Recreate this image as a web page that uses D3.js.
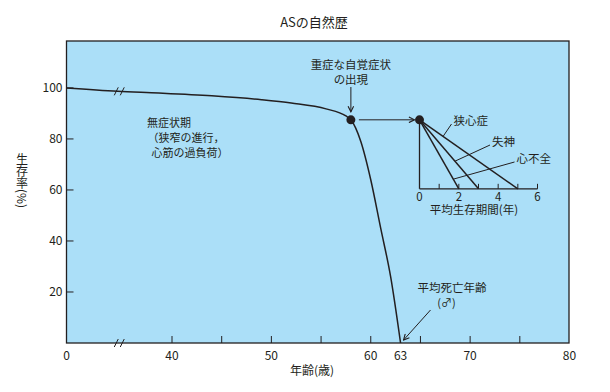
<!DOCTYPE html>
<html>
<head>
<meta charset="utf-8">
<script src="https://cdn.jsdelivr.net/npm/d3@7"></script>
<style>
  body { margin: 0; background: #fff; }
  text { font-family: "Noto Sans CJK JP", "Noto Sans", sans-serif; fill: #231f20; }
</style>
</head>
<body>
<div id="chart"></div>
<script>
// survival curve (age, survival %)
var ages     = [0, 19.4, 35, 44, 49, 52, 55.5, 57.5, 58, 59, 60, 61, 62, 63];
var survival = [100, 98.7, 98, 96.9, 95.4, 94.1, 91.8, 89, 87.5, 79, 64, 45, 26, 0];

var onsetAge = 58;          // 重症な自覚症状の出現
var deathAge = 63;          // 平均死亡年齢
var breakAge = 20;          // axis break position

var xTickMarks  = [40, 45, 50, 55, 60, 65, 70, 75];
var xTickLabels = [0, 40, 50, 60, 63, 70, 80];
var yTickValues = [20, 40, 60, 80, 100];

// inset: mean survival years after symptoms
var insetLabels = ["狭心症", "失神", "心不全"];
var insetYears  = [5, 3, 2];
var insetTicks  = [0, 1, 2, 3, 4, 5, 6];
var insetTickLabels = [0, 2, 4, 6];

var W = 610, H = 392;
var margin = { top: 41, right: 41, bottom: 49, left: 66.5 },
    width = W - margin.left - margin.right,
    height = H - margin.top - margin.bottom;

var ink = "#231f20";

// broken x axis: 0-40 compressed
var x = d3.scaleLinear()
    .domain([0, 40, 80])
    .range([0, 105.5, 503]);
var y = d3.scaleLinear()
    .domain([0, 118.4])
    .range([height, 0]);

var svg = d3.select("#chart").append("svg")
    .attr("width", W)
    .attr("height", H);

svg.append("defs").append("marker")
    .attr("id", "arr")
    .attr("viewBox", "0 0 10 10")
    .attr("refX", 9).attr("refY", 5)
    .attr("markerWidth", 7).attr("markerHeight", 7)
    .attr("markerUnits", "userSpaceOnUse")
    .attr("orient", "auto")
    .append("path")
    .attr("d", "M1,1 L9,5 L1,9")
    .attr("fill", "none")
    .attr("stroke", ink)
    .attr("stroke-width", 1.6);

// title
svg.append("text")
    .attr("x", 314).attr("y", 27)
    .attr("text-anchor", "middle")
    .style("font-size", "13px")
    .text("ASの自然歴");

var g = svg.append("g")
    .attr("transform", "translate(" + margin.left + "," + margin.top + ")");

// plot background
g.append("rect")
    .attr("width", width).attr("height", height)
    .attr("fill", "#abdff8")
    .attr("stroke", ink)
    .attr("stroke-width", 1.3);

// x ticks (inward) and labels
g.selectAll(".xt").data(xTickMarks).enter().append("line")
    .attr("x1", function (d) { return x(d); })
    .attr("x2", function (d) { return x(d); })
    .attr("y1", height).attr("y2", height - 7)
    .attr("stroke", ink).attr("stroke-width", 1);
g.selectAll(".xl").data(xTickLabels).enter().append("text")
    .attr("x", function (d) { return x(d); })
    .attr("y", height + 17)
    .attr("text-anchor", "middle")
    .style("font-size", "12px")
    .text(function (d) { return d; });

// y ticks (inward) and labels
g.selectAll(".yt").data(yTickValues).enter().append("line")
    .attr("x1", 0).attr("x2", 7)
    .attr("y1", function (d) { return y(d); })
    .attr("y2", function (d) { return y(d); })
    .attr("stroke", ink).attr("stroke-width", 1);
g.selectAll(".yl").data(yTickValues).enter().append("text")
    .attr("x", -4)
    .attr("y", function (d) { return y(d) + 4.5; })
    .attr("text-anchor", "end")
    .style("font-size", "12px")
    .text(function (d) { return d; });

// axis titles
svg.append("text")
    .attr("x", 312).attr("y", 375)
    .attr("text-anchor", "middle")
    .style("font-size", "12px")
    .text("年齢(歳)");
svg.append("text")
    .attr("x", 22).attr("y", 153)
    .style("writing-mode", "vertical-rl")
    .style("font-size", "12px")
    .text("生存率(%)");

// break marks
function breakMark(cx, cy) {
    [-3, 3].forEach(function (dx) {
        g.append("line")
            .attr("x1", cx + dx - 2).attr("y1", cy + 4)
            .attr("x2", cx + dx + 2).attr("y2", cy - 4)
            .attr("stroke", ink).attr("stroke-width", 1);
    });
}
var lineData = ages.map(function (a, i) { return [a, survival[i]]; });
var interp = d3.scaleLinear().domain(ages).range(survival);
breakMark(x(breakAge), height);
breakMark(x(breakAge), y(interp(breakAge)));

// survival curve
g.append("path")
    .datum(lineData)
    .attr("fill", "none")
    .attr("stroke", ink)
    .attr("stroke-width", 1.5)
    .attr("d", d3.line()
        .x(function (d) { return x(d[0]); })
        .y(function (d) { return y(d[1]); })
        .curve(d3.curveMonotoneX));

var px = x(onsetAge), py = y(interp(onsetAge));
g.append("circle")
    .attr("cx", px).attr("cy", py).attr("r", 4.5)
    .attr("fill", ink);

// onset annotation
g.append("text")
    .attr("x", px).attr("y", 28)
    .attr("text-anchor", "middle")
    .style("font-size", "11.5px")
    .text("重症な自覚症状");
g.append("text")
    .attr("x", px).attr("y", 43)
    .attr("text-anchor", "middle")
    .style("font-size", "11.5px")
    .text("の出現");
g.append("line")
    .attr("x1", px).attr("y1", 46)
    .attr("x2", px).attr("y2", py - 8)
    .attr("stroke", ink).attr("stroke-width", 1)
    .attr("marker-end", "url(#arr)");

// asymptomatic annotation
var asym = [["無症状期", 80.5], ["（狭窄の進行，", 81], ["心筋の過負荷）", 85]];
asym.forEach(function (t, i) {
    g.append("text")
        .attr("x", t[1]).attr("y", 86 + i * 15)
        .style("font-size", "11px")
        .text(t[0]);
});

// death age annotation
var dx0 = x(deathAge);
g.append("text")
    .attr("x", 385.5).attr("y", 251)
    .attr("text-anchor", "middle")
    .style("font-size", "11.5px")
    .text("平均死亡年齢");
g.append("text")
    .attr("x", 380).attr("y", 266)
    .attr("text-anchor", "middle")
    .style("font-size", "11px")
    .text("(♂)");
g.append("line")
    .attr("x1", 364).attr("y1", 269)
    .attr("x2", dx0 + 3).attr("y2", height - 3)
    .attr("stroke", ink).attr("stroke-width", 1)
    .attr("marker-end", "url(#arr)");

// inset
var xi = d3.scaleLinear().domain([0, 6]).range([353, 471]);
var iy0 = py, iy1 = py + 69;

g.append("line")
    .attr("x1", px + 8).attr("y1", py)
    .attr("x2", xi(0) - 5).attr("y2", py)
    .attr("stroke", ink).attr("stroke-width", 1)
    .attr("marker-end", "url(#arr)");

g.append("line")
    .attr("x1", xi(0)).attr("y1", iy0)
    .attr("x2", xi(0)).attr("y2", iy1)
    .attr("stroke", ink).attr("stroke-width", 1.3);
g.append("line")
    .attr("x1", xi(0)).attr("y1", iy1)
    .attr("x2", xi(6)).attr("y2", iy1)
    .attr("stroke", ink).attr("stroke-width", 1.3);
g.selectAll(".it").data(insetTicks.slice(1)).enter().append("line")
    .attr("x1", function (d) { return xi(d); })
    .attr("x2", function (d) { return xi(d); })
    .attr("y1", iy1).attr("y2", iy1 - 5)
    .attr("stroke", ink).attr("stroke-width", 1);
g.selectAll(".il").data(insetTickLabels).enter().append("text")
    .attr("x", function (d) { return xi(d); })
    .attr("y", iy1 + 12)
    .attr("text-anchor", "middle")
    .style("font-size", "11.5px")
    .text(function (d) { return d; });
g.append("text")
    .attr("x", xi(3) - 4.5).attr("y", iy1 + 25)
    .attr("text-anchor", "middle")
    .style("font-size", "11.5px")
    .text("平均生存期間(年)");

g.selectAll(".iline").data(insetYears).enter().append("line")
    .attr("x1", xi(0)).attr("y1", iy0)
    .attr("x2", function (d) { return xi(d); })
    .attr("y2", iy1)
    .attr("stroke", ink).attr("stroke-width", 1.5);

// leader lines to labels
var leaderT = [0.24, 0.6, 0.86];
var labelPos = [[387, 84], [425.5, 105], [450, 122]];
insetYears.forEach(function (v, i) {
    var t = leaderT[i];
    var sx = xi(0) + t * (xi(v) - xi(0)), sy = iy0 + t * (iy1 - iy0);
    g.append("line")
        .attr("x1", sx).attr("y1", sy)
        .attr("x2", labelPos[i][0] - 2).attr("y2", labelPos[i][1] - 1)
        .attr("stroke", ink).attr("stroke-width", 1);
    g.append("text")
        .attr("x", labelPos[i][0]).attr("y", labelPos[i][1])
        .style("font-size", "11.5px")
        .text(insetLabels[i]);
});

g.append("circle")
    .attr("cx", xi(0)).attr("cy", iy0).attr("r", 4.5)
    .attr("fill", ink);
</script>
</body>
</html>
